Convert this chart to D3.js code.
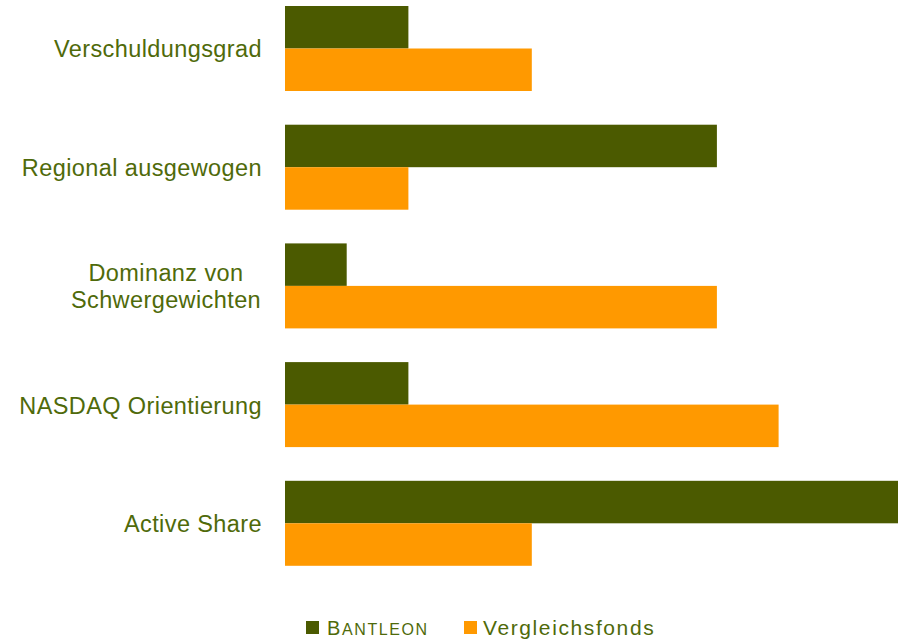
<!DOCTYPE html>
<html>
<head>
<meta charset="utf-8">
<script src="https://cdn.jsdelivr.net/npm/d3@7"></script>
<style>
  body { margin: 0; background: #fff; }
  svg { display: block; font-family: "Liberation Sans", Arial, sans-serif; }
</style>
</head>
<body>
<div id="chart"></div>
<script>
// categories and values
var categories = ["Verschuldungsgrad", "Regional ausgewogen", "Dominanz von Schwergewichten", "NASDAQ Orientierung", "Active Share"];
var labelLines = [["Verschuldungsgrad"], ["Regional ausgewogen"], ["Dominanz von", "Schwergewichten"], ["NASDAQ Orientierung"], ["Active Share"]];
var series = ["BANTLEON", "Vergleichsfonds"];
var bantleon = [2, 7, 1, 2, 10];
var vergleich = [4, 2, 7, 8, 4];

var svgWidth = 898;
var svgHeight = 641;

var colors = { "BANTLEON": "#4b5a00", "Vergleichsfonds": "#ff9900" };
var textColor = "#4f6a0a";

var svg = d3.select("#chart")
  .append("svg")
  .attr("width", svgWidth)
  .attr("height", svgHeight);

// scales
var x = d3.scaleLinear()
  .domain([0, 10])
  .range([285, 902]);

var y0 = d3.scaleBand()
  .domain(categories)
  .range([-10.85, 582.65])
  .paddingInner(0.284)
  .paddingOuter(0.142);

var y1 = d3.scaleBand()
  .domain(series)
  .range([0, y0.bandwidth()]);

var rows = categories.map(function(c, i) {
  return { cat: c, lines: labelLines[i], values: [
    { key: "BANTLEON", value: bantleon[i] },
    { key: "Vergleichsfonds", value: vergleich[i] }
  ] };
});

var groups = svg.selectAll("g.group")
  .data(rows)
  .enter()
  .append("g")
  .attr("class", "group")
  .attr("transform", d => `translate(0, ${y0(d.cat)})`);

groups.selectAll("rect")
  .data(d => d.values)
  .enter()
  .append("rect")
  .attr("x", x(0))
  .attr("y", d => y1(d.key))
  .attr("width", d => x(d.value) - x(0))
  .attr("height", y1.bandwidth())
  .attr("fill", d => colors[d.key]);

// category labels (single lines right aligned, wrapped ones centred)
groups.each(function(d) {
  var g = d3.select(this);
  var n = d.lines.length;
  var lineH = 27;
  var mid = y0.bandwidth() / 2;
  var t = g.append("text")
    .attr("text-anchor", n > 1 ? "middle" : "end")
    .attr("font-size", 23.5)
    .attr("letter-spacing", 0.4)
    .attr("fill", textColor);
  d.lines.forEach(function(line, k) {
    t.append("tspan")
      .attr("x", n > 1 ? 166 : 262)
      .attr("y", mid + 9 + (k - (n - 1) / 2) * lineH)
      .text(line);
  });
});

// legend
var legend = svg.append("g").attr("class", "legend");
var legendX = [306, 464];
series.forEach(function(s, i) {
  legend.append("rect")
    .attr("x", legendX[i])
    .attr("y", 621)
    .attr("width", 13)
    .attr("height", 13)
    .attr("fill", colors[s]);
  var t = legend.append("text")
    .attr("x", legendX[i] + (i === 0 ? 21 : 19))
    .attr("y", 635)
    .attr("font-size", 21)
    .attr("letter-spacing", 1.6)
    .attr("fill", textColor);
  if (s === "BANTLEON") {
    t.append("tspan").attr("font-size", 20).text("B");
    t.append("tspan").attr("font-size", 16).text("ANTLEON");
  } else {
    t.text(s);
  }
});
</script>
</body>
</html>
